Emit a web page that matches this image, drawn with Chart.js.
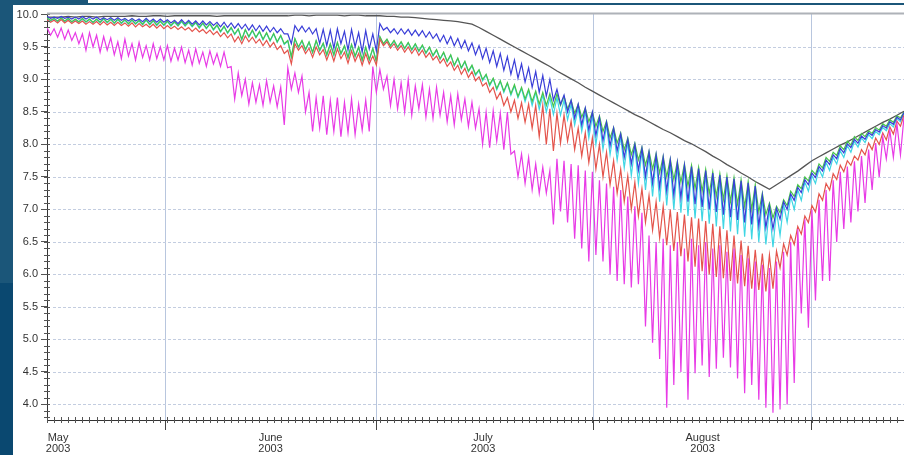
<!DOCTYPE html>
<html><head><meta charset="utf-8">
<script src="https://cdn.jsdelivr.net/npm/chart.js@4.4.0/dist/chart.umd.min.js"></script>
<style>
html,body{margin:0;padding:0;width:904px;height:455px;overflow:hidden;background:#1b5679;}
#bar{position:absolute;left:88px;top:0;width:816px;height:3px;background:#fff;}
#low{position:absolute;left:0;top:283px;width:13px;height:172px;background:#0a4870;}
#panel{position:absolute;left:13px;top:5px;width:891px;height:450px;background:#fff;}
#c{position:absolute;left:0;top:0;}
</style></head><body>
<div id="bar"></div><div id="low"></div>
<div id="panel"><canvas id="c" width="891" height="450" style="width:891px;height:450px"></canvas></div>
<script>
// Days counted from 1 May 2003 (day 0). Each day: daily high then daily low.
const monthLabels = [['May','2003'],['June','2003'],['July','2003'],['August','2003']];
const monthLabelDays = [1.0, 31, 61, 92];
const gridDays = [16.8, 46.5, 77.1, 107.9];
const yTickValues = [4.0,4.5,5.0,5.5,6.0,6.5,7.0,7.5,8.0,8.5,9.0,9.5,10.0];

const blackVals = [
9.96,9.96,9.96,9.97,9.96,9.97,9.97,9.96,9.97,9.97,
9.97,9.97,9.98,9.97,9.97,9.98,9.98,9.97,9.98,9.98,
9.98,9.98,9.98,9.98,9.97,9.98,9.98,9.98,9.98,9.98,
9.98,9.98,9.98,9.98,9.98,9.99,9.99,9.98,9.99,9.99,
9.99,9.99,9.98,9.99,9.99,9.98,9.98,9.98,9.97,9.97,
9.96,9.96,9.95,9.94,9.93,9.92,9.91,9.90,9.89,9.87,
9.85,9.80,9.74,9.68,9.62,9.56,9.50,9.44,9.38,9.32,
9.26,9.20,9.13,9.07,9.01,8.95,8.88,8.82,8.76,8.70,
8.64,8.58,8.52,8.46,8.41,8.35,8.29,8.23,8.18,8.12,
8.06,8.01,7.95,7.89,7.82,7.76,7.69,7.63,7.56,7.50,
7.43,7.37,7.31,7.38,7.45,7.52,7.59,7.67,7.75,7.81,
7.87,7.93,7.99,8.04,8.10,8.16,8.22,8.28,8.34,8.39,
8.45,8.51];

const blueHi = [
9.97,9.96,9.97,9.96,9.96,9.97,9.96,9.96,9.95,9.95,
9.95,9.94,9.94,9.93,9.94,9.93,9.93,9.92,9.91,9.92,
9.91,9.90,9.90,9.89,9.88,9.88,9.87,9.86,9.85,9.84,
9.83,9.82,9.80,9.78,9.70,9.83,9.82,9.80,9.78,9.77,
9.76,9.78,9.74,9.77,9.72,9.75,9.70,9.86,9.80,9.78,
9.78,9.77,9.76,9.75,9.73,9.70,9.68,9.66,9.63,9.60,
9.56,9.52,9.48,9.44,9.40,9.35,9.30,9.24,9.18,9.12,
9.06,9.00,8.85,8.76,8.68,8.62,8.56,8.50,8.42,8.34,
8.25,8.16,8.08,8.00,7.94,7.88,7.84,7.80,7.76,7.72,
7.68,7.66,7.63,7.60,7.56,7.53,7.50,7.47,7.44,7.41,
7.36,7.22,7.06,7.02,7.12,7.24,7.34,7.46,7.56,7.66,
7.76,7.84,7.94,8.01,8.08,8.13,8.18,8.23,8.29,8.35,
8.42,8.49];
const blueLo = [
9.94,9.94,9.94,9.93,9.93,9.93,9.93,9.92,9.92,9.91,
9.91,9.90,9.90,9.89,9.89,9.88,9.88,9.87,9.86,9.86,
9.85,9.84,9.84,9.83,9.81,9.80,9.79,9.78,9.76,9.75,
9.74,9.73,9.72,9.70,9.55,9.74,9.73,9.70,9.55,9.52,
9.48,9.55,9.45,9.50,9.42,9.47,9.44,9.76,9.72,9.70,
9.70,9.68,9.67,9.65,9.63,9.58,9.55,9.52,9.48,9.44,
9.38,9.32,9.26,9.20,9.14,9.08,9.02,8.96,8.88,8.80,
8.74,8.68,8.62,8.50,8.40,8.30,8.22,8.14,8.06,7.98,
7.90,7.80,7.70,7.60,7.50,7.40,7.34,7.28,7.22,7.18,
7.12,7.08,7.04,7.00,6.96,6.92,6.88,6.84,6.80,6.77,
6.74,6.72,6.70,6.85,7.00,7.14,7.26,7.38,7.49,7.59,
7.69,7.78,7.87,7.95,8.02,8.08,8.14,8.19,8.25,8.31,
8.38,8.45];

const greenHi = [
9.95,9.94,9.95,9.94,9.93,9.94,9.93,9.93,9.94,9.93,
9.93,9.92,9.92,9.91,9.92,9.91,9.90,9.90,9.89,9.90,
9.89,9.88,9.87,9.86,9.84,9.82,9.80,9.78,9.77,9.76,
9.74,9.72,9.71,9.68,9.60,9.63,9.60,9.58,9.60,9.56,
9.55,9.57,9.52,9.54,9.50,9.50,9.48,9.66,9.62,9.60,
9.58,9.57,9.55,9.53,9.50,9.46,9.42,9.38,9.33,9.28,
9.22,9.15,9.08,9.02,8.98,8.95,8.92,8.88,8.85,8.82,
8.80,8.78,8.78,8.74,8.68,8.62,8.56,8.50,8.44,8.36,
8.26,8.18,8.10,8.02,7.96,7.90,7.86,7.82,7.78,7.74,
7.70,7.68,7.65,7.62,7.58,7.55,7.52,7.49,7.46,7.43,
7.38,7.25,7.10,7.05,7.15,7.28,7.38,7.50,7.60,7.70,
7.80,7.88,7.98,8.05,8.12,8.17,8.21,8.26,8.32,8.38,
8.44,8.50];
const greenLo = [
9.91,9.90,9.90,9.89,9.89,9.89,9.88,9.88,9.88,9.87,
9.87,9.86,9.86,9.85,9.85,9.84,9.84,9.83,9.83,9.83,
9.82,9.80,9.79,9.77,9.74,9.72,9.70,9.62,9.66,9.65,
9.62,9.60,9.58,9.55,9.35,9.50,9.46,9.42,9.45,9.38,
9.38,9.40,9.34,9.36,9.30,9.31,9.28,9.55,9.52,9.50,
9.48,9.46,9.44,9.41,9.37,9.32,9.28,9.22,9.18,9.13,
9.08,9.00,8.92,8.86,8.82,8.78,8.74,8.70,8.66,8.62,
8.60,8.58,8.60,8.55,8.48,8.42,8.35,8.28,8.20,8.10,
8.02,7.92,7.84,7.76,7.68,7.62,7.56,7.50,7.46,7.42,
7.36,7.32,7.28,7.24,7.20,7.15,7.12,7.08,7.04,7.00,
6.96,6.92,6.87,6.95,7.06,7.20,7.32,7.44,7.54,7.64,
7.74,7.83,7.92,7.99,8.06,8.12,8.17,8.22,8.28,8.34,
8.41,8.48];

const cyanHi = [
9.94,9.93,9.94,9.93,9.92,9.93,9.92,9.92,9.93,9.92,
9.92,9.91,9.91,9.90,9.91,9.90,9.89,9.89,9.88,9.89,
9.88,9.87,9.86,9.85,9.83,9.81,9.79,9.77,9.76,9.75,
9.73,9.71,9.70,9.67,9.59,9.62,9.59,9.57,9.59,9.55,
9.54,9.56,9.51,9.53,9.49,9.49,9.47,9.65,9.61,9.59,
9.57,9.56,9.54,9.52,9.49,9.45,9.41,9.37,9.32,9.27,
9.21,9.14,9.07,9.01,8.97,8.94,8.90,8.86,8.83,8.80,
8.76,8.72,8.72,8.68,8.62,8.56,8.50,8.44,8.38,8.30,
8.20,8.12,8.04,7.96,7.90,7.84,7.80,7.76,7.72,7.68,
7.64,7.62,7.59,7.56,7.52,7.49,7.46,7.43,7.40,7.37,
7.32,7.18,7.02,6.98,7.08,7.20,7.30,7.42,7.52,7.62,
7.72,7.80,7.90,7.98,8.05,8.10,8.15,8.20,8.26,8.32,
8.40,8.47];
const cyanLo = [
9.90,9.89,9.89,9.88,9.88,9.88,9.87,9.87,9.87,9.86,
9.86,9.85,9.85,9.84,9.84,9.83,9.83,9.82,9.82,9.82,
9.81,9.79,9.78,9.76,9.73,9.71,9.69,9.61,9.65,9.64,
9.61,9.59,9.57,9.54,9.34,9.49,9.45,9.41,9.44,9.37,
9.37,9.39,9.33,9.35,9.29,9.30,9.27,9.54,9.51,9.49,
9.47,9.45,9.43,9.40,9.36,9.31,9.27,9.21,9.17,9.12,
9.06,8.98,8.90,8.84,8.80,8.76,8.72,8.66,8.60,8.54,
8.50,8.46,8.45,8.38,8.30,8.20,8.10,8.00,7.92,7.84,
7.76,7.64,7.52,7.40,7.30,7.20,7.12,7.06,7.00,6.95,
6.90,6.86,6.82,6.78,6.74,6.70,6.66,6.62,6.58,6.54,
6.50,6.46,6.42,6.60,6.80,7.00,7.14,7.28,7.40,7.50,
7.60,7.70,7.80,7.88,7.96,8.03,8.09,8.15,8.21,8.27,
8.35,8.42];

const redHi = [
9.92,9.91,9.92,9.91,9.90,9.90,9.89,9.89,9.89,9.88,
9.88,9.87,9.87,9.86,9.85,9.85,9.84,9.83,9.82,9.81,
9.80,9.79,9.77,9.76,9.74,9.72,9.70,9.66,9.67,9.65,
9.62,9.60,9.57,9.52,9.45,9.55,9.52,9.48,9.50,9.46,
9.45,9.47,9.42,9.44,9.40,9.40,9.36,9.62,9.58,9.55,
9.52,9.50,9.48,9.45,9.41,9.36,9.32,9.27,9.22,9.17,
9.12,9.04,8.95,8.88,8.80,8.72,8.68,8.64,8.62,8.60,
8.60,8.55,8.48,8.45,8.36,8.25,8.18,8.10,8.00,7.88,
7.75,7.62,7.52,7.42,7.32,7.22,7.12,7.05,7.00,6.96,
6.92,6.88,6.86,6.82,6.78,6.74,6.68,6.60,6.52,6.44,
6.38,6.32,6.30,6.36,6.47,6.60,6.74,6.90,7.06,7.24,
7.40,7.55,7.68,7.75,7.82,7.92,8.02,8.10,8.18,8.27,
8.36,8.45];
const redLo = [
9.88,9.87,9.87,9.86,9.86,9.85,9.85,9.84,9.84,9.83,
9.83,9.82,9.81,9.81,9.80,9.79,9.78,9.78,9.77,9.76,
9.74,9.73,9.71,9.69,9.66,9.64,9.58,9.55,9.58,9.56,
9.52,9.50,9.46,9.40,9.24,9.45,9.40,9.34,9.38,9.30,
9.28,9.32,9.25,9.28,9.22,9.24,9.22,9.52,9.48,9.45,
9.42,9.40,9.37,9.34,9.30,9.25,9.20,9.14,9.08,9.03,
8.98,8.90,8.80,8.70,8.60,8.50,8.40,8.34,8.25,8.12,
8.00,7.90,8.02,8.05,7.92,7.82,7.72,7.62,7.50,7.38,
7.25,7.12,7.00,6.90,6.80,6.68,6.56,6.45,6.36,6.28,
6.20,6.12,6.05,6.00,5.96,5.94,5.90,5.86,5.82,5.78,
5.76,5.74,5.78,6.10,6.30,6.46,6.62,6.80,6.96,7.14,
7.30,7.46,7.58,7.68,7.76,7.84,7.92,8.00,8.07,8.16,
8.28,8.38];

const magentaHi = [
9.80,9.78,9.79,9.76,9.72,9.70,9.72,9.68,9.66,9.64,
9.58,9.62,9.55,9.57,9.52,9.55,9.50,9.52,9.48,9.50,
9.45,9.47,9.42,9.44,9.40,9.42,9.20,9.10,9.00,8.95,
8.92,8.98,8.90,8.88,9.18,9.10,9.05,8.80,8.72,8.75,
8.68,8.72,8.65,8.70,8.62,8.68,9.20,9.15,9.05,9.00,
8.95,9.00,8.90,8.92,8.85,8.88,8.80,8.75,8.78,8.70,
8.65,8.55,8.50,8.52,8.48,8.50,7.90,7.85,7.80,7.70,
7.65,7.60,7.78,7.75,7.70,7.68,7.60,7.58,7.45,7.40,
7.35,7.30,7.20,7.05,6.95,6.60,6.50,6.55,6.45,6.50,
6.40,6.55,6.45,6.50,6.40,6.45,6.35,6.40,6.30,6.25,
6.20,6.15,6.10,6.20,6.35,6.50,6.70,6.85,7.00,7.15,
7.30,7.45,7.58,7.66,7.74,7.82,7.92,8.02,8.12,8.22,
8.32,8.42];
const magentaLo = [
9.68,9.65,9.62,9.60,9.55,9.45,9.50,9.42,9.45,9.38,
9.32,9.36,9.30,9.34,9.30,9.32,9.30,9.28,9.30,9.26,
9.22,9.25,9.20,9.24,9.20,9.18,8.70,8.75,8.62,8.65,
8.60,8.65,8.58,8.30,8.85,8.80,8.50,8.20,8.25,8.15,
8.20,8.12,8.18,8.15,8.22,8.20,8.80,8.85,8.60,8.55,
8.50,8.45,8.55,8.42,8.40,8.45,8.35,8.30,8.38,8.28,
8.25,8.00,7.95,8.05,7.92,7.85,7.50,7.40,7.30,7.25,
7.25,6.77,6.97,6.80,6.55,6.40,6.20,6.30,6.20,6.00,
5.90,5.85,5.80,5.85,5.20,4.95,4.70,3.95,4.30,4.50,
4.07,4.48,4.60,4.42,4.55,4.72,4.57,4.40,4.17,4.30,
4.07,3.95,3.87,3.92,4.00,4.33,5.40,5.18,5.60,5.90,
5.90,6.50,6.70,6.80,6.97,7.10,7.30,7.50,7.78,7.80,
7.84,8.00];

function dayHighLow(hi, lo) {
  const pts = [];
  for (let d = 0; d < hi.length; d++) {
    pts.push({x: d, y: hi[d]});
    pts.push({x: d + 0.5, y: lo[d]});
  }
  return pts;
}
function daily(vals) { return vals.map((v, d) => ({x: d, y: v})); }

const xTicks = monthLabelDays.map((v, i) => ({v, label: monthLabels[i], grid: false}))
  .concat(gridDays.map(v => ({v, label: '', grid: true})))
  .sort((a, b) => a.v - b.v);

const framePlugin = {
  id: 'frame',
  beforeDatasetsDraw(chart) {
    const {ctx, chartArea: a, scales: {y}} = chart;
    ctx.save();
    ctx.strokeStyle = '#c3cde0';
    ctx.lineWidth = 1;
    ctx.setLineDash([3, 2]);
    yTickValues.forEach(v => {
      const py = Math.round(y.getPixelForValue(v)) + 0.5;
      if (py > a.top + 2) {
        ctx.beginPath(); ctx.moveTo(a.left + 6, py); ctx.lineTo(a.right, py); ctx.stroke();
      }
    });
    ctx.restore();
  },
  afterDraw(chart) {
    const {ctx, chartArea: a, scales: {x, y}} = chart;
    ctx.save();
    ctx.strokeStyle = '#555';
    ctx.lineWidth = 1;
    for (let k = 38; k <= 100; k++) {
      const py = Math.round(y.getPixelForValue(k / 10)) + 0.5;
      ctx.beginPath(); ctx.moveTo(a.left - 3, py); ctx.lineTo(a.left + 3, py); ctx.stroke();
    }
    for (let d = 0; d <= 121; d++) {
      const px = Math.round(x.getPixelForValue(d)) + 0.5;
      ctx.beginPath(); ctx.moveTo(px, a.bottom - 3); ctx.lineTo(px, a.bottom + 3); ctx.stroke();
    }
    ctx.strokeStyle = '#aeb2b8';
    ctx.lineWidth = 2;
    ctx.beginPath(); ctx.moveTo(a.left, a.top); ctx.lineTo(a.right, a.top); ctx.stroke();
    ctx.restore();
  }
};

const mk = (data, color, w) => ({data, borderColor: color, borderWidth: w || 1.2, pointRadius: 0, tension: 0, fill: false});

new Chart(document.getElementById('c'), {
  type: 'line',
  data: {
    datasets: [
      mk(dayHighLow(magentaHi, magentaLo), '#e83be6'),
      mk(dayHighLow(redHi, redLo), '#e4544c'),
      mk(dayHighLow(blueHi, blueLo), '#3a3ed8'),
      mk(dayHighLow(greenHi, greenLo), '#48c44c'),
      mk(dayHighLow(cyanHi, cyanLo), '#3fd6e4'),
      mk(daily(blackVals), '#555555', 1.3)
    ]
  },
  options: {
    responsive: false,
    animation: false,
    devicePixelRatio: 1,
    layout: {padding: {top: 6, left: 0, right: 0, bottom: 0}},
    plugins: {legend: {display: false}, tooltip: {enabled: false}},
    scales: {
      x: {
        type: 'linear', min: 0, max: 121, position: 'bottom',
        afterBuildTicks: s => { s.ticks = xTicks.map(t => ({value: t.v})); },
        afterFit: s => { s.height = 35; },
        ticks: {
          autoSkip: false, maxRotation: 0, minRotation: 0, padding: 2, labelOffset: 4,
          color: '#333', font: {family: 'Liberation Sans', size: 11, lineHeight: 1.0},
          callback: (v, i) => xTicks[i] ? xTicks[i].label : ''
        },
        grid: {
          drawOnChartArea: true, drawTicks: true, tickLength: 10, lineWidth: 1,
          color: c => (c.tick && gridDays.includes(c.tick.value)) ? '#b8c6de' : 'rgba(0,0,0,0)',
          tickColor: c => (c.tick && gridDays.includes(c.tick.value)) ? '#444' : 'rgba(0,0,0,0)'
        },
        border: {display: true, color: '#333', width: 1}
      },
      y: {
        type: 'linear', min: 3.76, max: 10.015,
        afterBuildTicks: s => { s.ticks = yTickValues.map(v => ({value: v})); },
        afterFit: s => { s.width = 34; },
        ticks: {
          padding: 3, color: '#333', font: {family: 'Liberation Sans', size: 11, lineHeight: 1.0},
          callback: v => Number(v).toFixed(1)
        },
        grid: {drawOnChartArea: false, drawTicks: true, tickLength: 6, tickColor: '#555'},
        border: {display: true, color: '#333', width: 1}
      }
    }
  },
  plugins: [framePlugin]
});
</script>
</body></html>
